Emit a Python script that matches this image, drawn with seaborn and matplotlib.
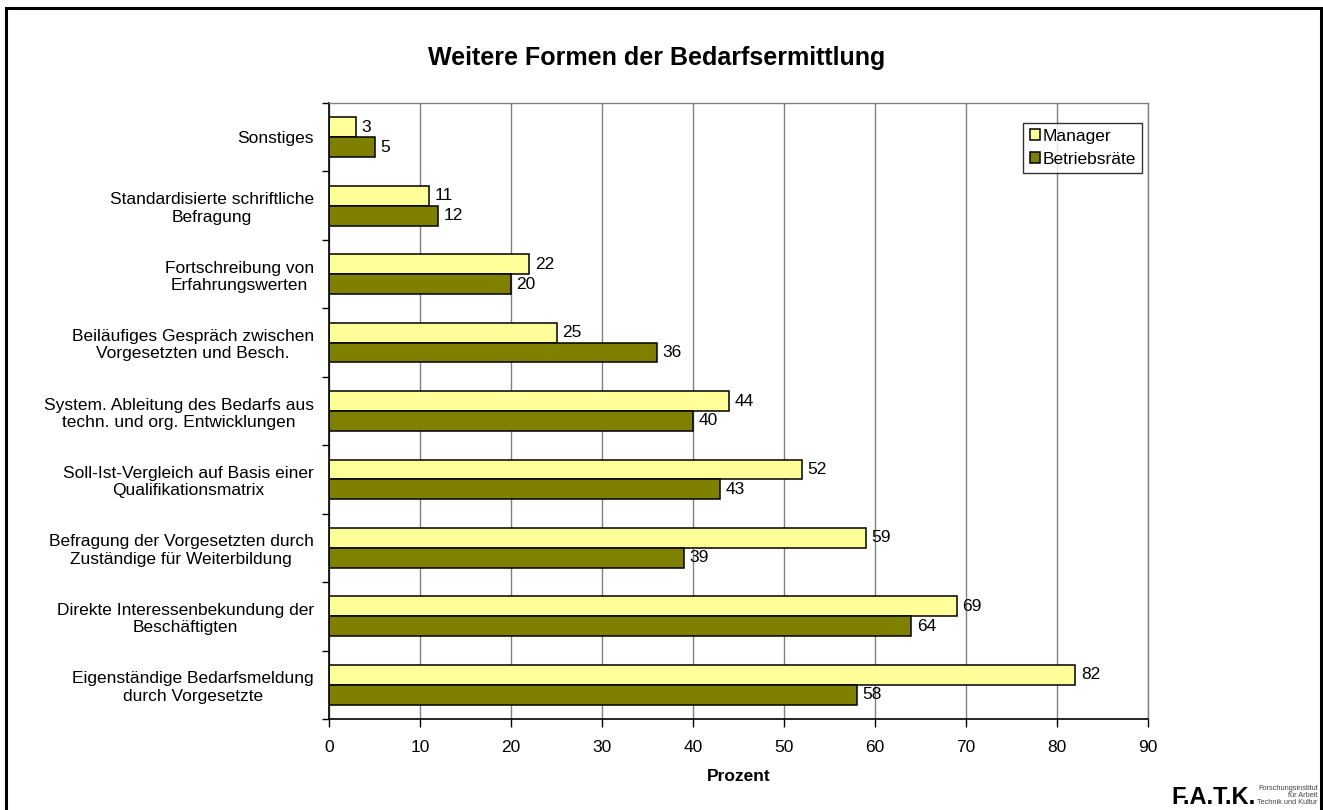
import matplotlib
matplotlib.use("Agg")
import matplotlib.pyplot as plt
from matplotlib.patches import Rectangle
from matplotlib.ticker import FixedLocator
import seaborn as sns
import pandas as pd

# Daten (von oben nach unten wie im Original)
kategorien = [
    "Sonstiges",
    "Standardisierte schriftliche\nBefragung",
    "Fortschreibung von\nErfahrungswerten",
    "Beiläufiges Gespräch zwischen\nVorgesetzten und Besch.",
    "System. Ableitung des Bedarfs aus\ntechn. und org. Entwicklungen",
    "Soll-Ist-Vergleich auf Basis einer\nQualifikationsmatrix",
    "Befragung der Vorgesetzten durch\nZuständige für Weiterbildung",
    "Direkte Interessenbekundung der\nBeschäftigten",
    "Eigenständige Bedarfsmeldung\ndurch Vorgesetzte",
]
manager = [3, 11, 22, 25, 44, 52, 59, 69, 82]
betriebsraete = [5, 12, 20, 36, 40, 43, 39, 64, 58]
gruppen = ["Manager", "Betriebsräte"]
farben = ["#FFFF99", "#808000"]

df = pd.DataFrame({
    "Kategorie": kategorien * 2,
    "Prozent": manager + betriebsraete,
    "Gruppe": [gruppen[0]] * len(kategorien) + [gruppen[1]] * len(kategorien),
})

sns.set_style("white")
plt.rcParams["font.family"] = ["Liberation Sans", "DejaVu Sans"]
plt.rcParams.update({"text.color": "black", "axes.labelcolor": "black",
                     "xtick.color": "black", "ytick.color": "black"})

FS = 12.5

fig = plt.figure(figsize=(13.23, 8.10), dpi=100)
ax = fig.add_axes([329 / 1323, 1 - 719 / 810, 819 / 1323, 616 / 810])

sns.barplot(
    data=df, x="Prozent", y="Kategorie", hue="Gruppe",
    order=kategorien, hue_order=gruppen, palette=farben, saturation=1,
    orient="h", width=0.58, edgecolor="black", linewidth=1.1,
    ax=ax, legend=True,
)

# Wertelabels
for cont in ax.containers:
    ax.bar_label(cont, padding=4, fontsize=FS)

ax.set_xlim(0, 90)
ax.set_ylim(len(kategorien) - 0.5, -0.5)
ax.set_xticks(range(0, 91, 10))
ax.tick_params(axis="x", labelsize=FS, length=6, width=1, direction="out",
               bottom=True, pad=9)
ax.tick_params(axis="y", which="major", labelsize=FS, length=0, pad=11)
ax.yaxis.set_minor_locator(FixedLocator([i + 0.5 for i in range(-1, len(kategorien))]))
ax.tick_params(axis="y", which="minor", length=5, width=1, left=True)
for lbl in ax.get_yticklabels():
    lbl.set_multialignment("center")

ax.xaxis.grid(True, color="#808080", linewidth=1)
ax.yaxis.grid(False)
ax.set_axisbelow(True)

for side in ["left", "bottom"]:
    ax.spines[side].set_color("black")
    ax.spines[side].set_linewidth(1.2)
for side in ["top", "right"]:
    ax.spines[side].set_visible(True)
    ax.spines[side].set_color("#808080")
    ax.spines[side].set_linewidth(1)

ax.set_ylabel("")
ax.set_xlabel("Prozent", fontsize=FS, fontweight="bold", labelpad=10)

leg = ax.legend(
    loc="upper right", bbox_to_anchor=(0.9927, 0.9675), frameon=True,
    fancybox=False, edgecolor="black", fontsize=FS, handlelength=0.6,
    handleheight=0.6, handletextpad=0.15, borderpad=0.35, labelspacing=0.45,
    borderaxespad=0,
)
leg.get_frame().set_linewidth(1)
for h in leg.legend_handles:
    h.set_edgecolor("black")

fig.text(0.4966, 0.928, "Weitere Formen der Bedarfsermittlung",
         ha="center", va="center", fontsize=18, fontweight="bold")

# Logo
fig.text(0.949, 0.008, "F.A.T.K.", ha="right", va="baseline", fontsize=17,
         fontweight="bold")
fig.text(0.996, 0.008, "Forschungsinstitut\nfür Arbeit\nTechnik und Kultur",
         ha="right", va="baseline", fontsize=5.3, color="#444444",
         multialignment="right", linespacing=1.0)

# Rahmen um die Grafik
fig.patches.append(Rectangle((6 / 1323, -0.05), 1315 / 1323, 1.05 - 8 / 810,
                             transform=fig.transFigure, fill=False,
                             edgecolor="black", linewidth=2.2, clip_on=False))

fig.savefig("out.png", dpi=100)
